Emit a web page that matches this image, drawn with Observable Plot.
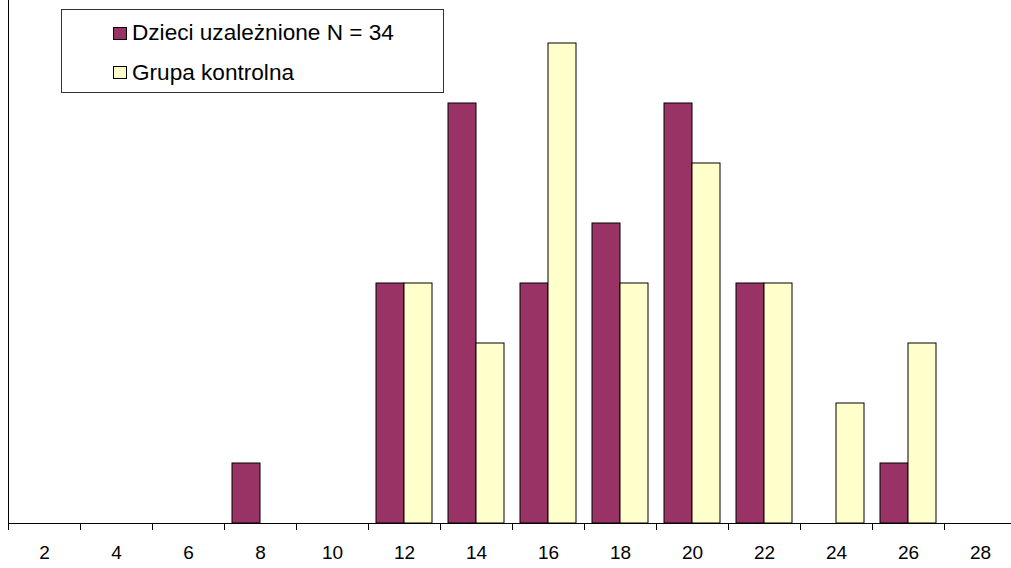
<!DOCTYPE html>
<html>
<head>
<meta charset="utf-8">
<script src="https://cdn.jsdelivr.net/npm/d3@7"></script>
<script src="https://cdn.jsdelivr.net/npm/@observablehq/plot@0.6"></script>
<style>
  html, body { margin: 0; padding: 0; background: #fff; }
  #wrap { position: relative; width: 1011px; height: 568px; overflow: hidden; font-family: "Liberation Sans", Arial, sans-serif; }
  #legend { position: absolute; left: 61px; top: 9px; width: 381px; height: 82px; border: 1px solid #333; background: #fff; }
  #legend .sw { position: absolute; left: 51px; width: 12px; height: 11px; border: 1px solid #000; }
  #legend .tx { position: absolute; left: 70px; font-size: 22.6px; line-height: 22px; color: #000; white-space: nowrap; }
</style>
</head>
<body>
<div id="wrap">
  <div id="chart"></div>
  <div id="legend"></div>
</div>
<script>
const categories = [2, 4, 6, 8, 10, 12, 14, 16, 18, 20, 22, 24, 26, 28];
const seriesNames = ["Dzieci uzależnione N = 34", "Grupa kontrolna"];
const addicted = [0, 0, 0, 1, 0, 4, 7, 4, 5, 7, 4, 0, 1, 0];
const control  = [0, 0, 0, 0, 0, 4, 3, 8, 4, 6, 4, 2, 3, 0];
const colors = ["#993366", "#FFFFCC"];

const data = categories.flatMap((c, i) => [
  {cat: c, series: seriesNames[0], value: addicted[i]},
  {cat: c, series: seriesNames[1], value: control[i]}
]);

const chart = Plot.plot({
  width: 1011,
  height: 568,
  marginLeft: 8,
  marginRight: -5,
  marginTop: 0,
  marginBottom: 45,
  style: {fontFamily: "'Liberation Sans', Arial, sans-serif", background: "#fff", overflow: "hidden"},
  fx: {domain: categories, padding: 0, axis: null, label: null},
  x: {domain: seriesNames, paddingInner: 0, paddingOuter: 8 / 28, axis: null, label: null},
  y: {domain: [0, 8], range: [523, 43], axis: null, label: null},
  color: {domain: seriesNames, range: colors},
  marks: [
    Plot.barY(data.filter(d => d.value > 0), {fx: "cat", x: "series", y: "value", fill: "series", stroke: "#000", strokeWidth: 1}),
    Plot.ruleY(categories, {fx: d => d, y: () => 0, stroke: "#000", strokeWidth: 1}),
    Plot.frame({anchor: "left", facetAnchor: "left", stroke: "#000"}),
    Plot.axisFx({anchor: "bottom", tickSize: 7, dx: -36, tickFormat: () => "", stroke: "#000", label: null}),
    Plot.axisFx({anchor: "bottom", tickSize: 0, tickPadding: 22, fontSize: 19, fill: "#000", label: null})
  ]
});
document.getElementById("chart").appendChild(chart);

const legend = document.getElementById("legend");
const swTops = [17, 56];
const txTops = [11.5, 51.5];
seriesNames.forEach((name, i) => {
  const sw = document.createElement("div");
  sw.className = "sw";
  sw.style.top = swTops[i] + "px";
  sw.style.background = colors[i];
  legend.appendChild(sw);
  const tx = document.createElement("div");
  tx.className = "tx";
  tx.style.top = txTops[i] + "px";
  tx.textContent = name;
  legend.appendChild(tx);
});
</script>
</body>
</html>
